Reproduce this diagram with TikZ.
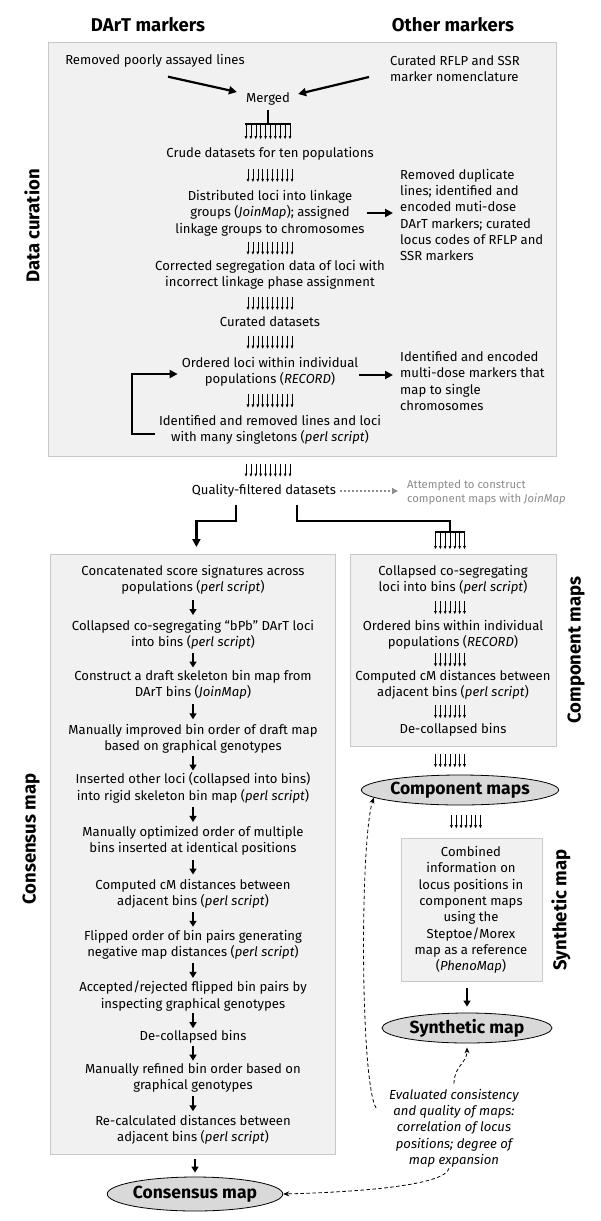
\documentclass[tikz,border=0pt]{standalone}
\usepackage{fontspec}
\setmainfont{Fira Sans}
\usetikzlibrary{arrows.meta,shapes.geometric,calc}
\definecolor{boxfill}{HTML}{F1F1F1}
\definecolor{boxline}{HTML}{C8C8C8}
\definecolor{ellfill}{HTML}{D9D9D9}
\definecolor{graytxt}{HTML}{8C8C8C}
\newcommand\stepdown[2]{\draw[sarrow] ($(#1.south)!0.5!(#2.north)+(0,-7.5)$) -- ++(0,15);}
\tikzset{
  tenarrows/.pic={\foreach \i in {0,...,9} \draw[tinyarrow] ({-22+\i*4.89},-6.5) -- ({-22+\i*4.89},6.5);},
  sevenarrows/.pic={\foreach \i in {0,...,6} \draw[tinyarrow] ({-14.5+\i*4.83},-6.5) -- ({-14.5+\i*4.83},6.5);},
  tenfork/.pic={\draw[line width=1.8pt] (-22.8,0) -- (22.8,0);
    \foreach \i in {0,...,9} \draw[tinyarrow] ({-22+\i*4.89},0) -- ({-22+\i*4.89},15);},
  sevenfork/.pic={\draw[line width=1.8pt] (-15.2,0) -- (15.2,0);
    \foreach \i in {0,...,6} \draw[tinyarrow] ({-14.5+\i*4.83},0) -- ({-14.5+\i*4.83},17);}
}
\begin{document}
\begin{tikzpicture}[x=1pt,y=-1pt,
  txt/.style={align=center, font=\fontsize{13.1}{16.3}\selectfont, inner sep=1pt},
  ltxt/.style={align=left, font=\fontsize{13.1}{16.1}\selectfont, inner sep=1pt},
  gtxt/.style={align=left, font=\fontsize{11.3}{14}\selectfont, text=graytxt, inner sep=1pt},
  hdr/.style={font=\fontsize{18.5}{20}\selectfont\bfseries, inner sep=0pt},
  sidelbl/.style={hdr, rotate=90},
  panel/.style={draw=boxline, fill=boxfill, line width=0.8pt, anchor=north west, inner sep=0pt},
  mapell/.style={ellipse, draw=black, fill=ellfill, line width=0.8pt, font=\fontsize{17.5}{20}\selectfont\bfseries, inner sep=0pt},
  bigarrow/.style={line width=2.2pt, -{Triangle[length=8pt,width=8pt]}},
  bigline/.style={line width=2.2pt},
  sarrow/.style={line width=2pt, -{Triangle[length=6pt,width=7pt]}},
  tinyarrow/.style={line width=0.5pt, -{Triangle[length=3pt,width=2.6pt]}},
  dasharrow/.style={dash pattern=on 3.5pt off 2.5pt, line width=0.8pt, -{Stealth[length=6pt,width=5pt]}},
  dotarrow/.style={draw=graytxt, line width=1.6pt, dash pattern=on 1.6pt off 2.4pt, -{Triangle[length=6pt,width=6pt,fill=graytxt]}}
]
\useasboundingbox (0,0) rectangle (600,1221);
% headers
\node[hdr] (hdA) at (148,25) {DArT markers};
\node[hdr] (hdB) at (453,25) {Other markers};
% panels
\node[panel, minimum width=508pt, minimum height=414pt] (box1) at (48,42) {};
\node[panel, minimum width=285pt, minimum height=600pt] (box2) at (50,554) {};
\node[panel, minimum width=206pt, minimum height=192pt] (box3) at (350,554) {};
\node[panel, minimum width=141pt, minimum height=143pt] (box4) at (401,838) {};
% side labels
\node[sidelbl] (lblDC) at (32,226) {Data curation};
\node[sidelbl] (lblCons) at (31,839) {Consensus map};
\node[sidelbl] (lblComp) at (576,650) {Component maps};
\node[sidelbl] (lblSyn) at (561,910) {Synthetic map};
% data curation
\node[txt] (t1) at (155,61) {Removed poorly assayed lines};
\node[ltxt, anchor=west] (t2) at (389,69) {Curated RFLP and SSR\\marker nomenclature};
\node[txt] (merged) at (268,99) {Merged};
\node[txt] (crude) at (270,154) {Crude datasets for ten populations};
\node[txt] (dist) at (270,213) {Distributed loci into linkage\\groups (\textit{JoinMap}); assigned\\linkage groups to chromosomes};
\node[ltxt, anchor=west] (side1) at (399,215) {Removed duplicate\\lines; identified and\\encoded muti-dose\\DArT markers; curated\\locus codes of RFLP and\\SSR markers};
\node[txt] (corr) at (270,275) {Corrected segregation data of loci with\\incorrect linkage phase assignment};
\node[txt] (curds) at (270,322) {Curated datasets};
\node[txt] (ordered) at (270,372) {Ordered loci within individual\\populations (\textit{RECORD})};
\node[ltxt, anchor=west] (side2) at (399,381) {Identified and encoded\\multi-dose markers that\\map to single\\chromosomes};
\node[txt] (ident) at (270,430) {Identified and removed lines and loci\\with many singletons (\textit{perl script})};
\node[txt] (quality) at (264,491) {Quality-filtered datasets};
\node[gtxt, anchor=west] (attempt) at (406,492) {Attempted to construct\\component maps with \textit{JoinMap}};
% consensus
\node[txt] (c1) at (193,580) {Concatenated score signatures across\\populations (\textit{perl script})};
\node[txt] (c2) at (193,635) {Collapsed co-segregating “bPb” DArT loci\\into bins (\textit{perl script})};
\node[txt] (c3) at (193,685) {Construct a draft skeleton bin map from\\DArT bins (\textit{JoinMap})};
\node[txt] (c4) at (193,738.5) {Manually improved bin order of draft map\\based on graphical genotypes};
\node[txt] (c5) at (193,788) {Inserted other loci (collapsed into bins)\\into rigid skeleton bin map (\textit{perl script})};
\node[txt] (c6) at (193,840.5) {Manually optimized order of multiple\\bins inserted at identical positions};
\node[txt] (c7) at (193,893.5) {Computed cM distances between\\adjacent bins (\textit{perl script})};
\node[txt] (c8) at (193,945) {Flipped order of bin pairs generating\\negative map distances (\textit{perl script})};
\node[txt] (c9) at (193,996) {Accepted/rejected flipped bin pairs by\\inspecting graphical genotypes};
\node[txt] (c10) at (193,1037) {De-collapsed bins};
\node[txt] (c11) at (193,1077.5) {Manually refined bin order based on\\graphical genotypes};
\node[txt] (c12) at (193,1130) {Re-calculated distances between\\adjacent bins (\textit{perl script})};
% component
\node[txt] (k1) at (453,580) {Collapsed co-segregating\\loci into bins (\textit{perl script})};
\node[txt] (k2) at (453,635) {Ordered bins within individual\\populations (\textit{RECORD})};
\node[txt] (k3) at (453,685) {Computed cM distances between\\adjacent bins (\textit{perl script})};
\node[txt] (k4) at (453,730) {De-collapsed bins};
% synthetic
\node[txt] (syntxt) at (471,910) {Combined\\information on\\locus positions in\\component maps\\using the\\Steptoe/Morex\\map as a reference\\(\textit{PhenoMap})};
% maps
\node[mapell, minimum width=172pt, minimum height=34pt] (consell) at (195,1194) {Consensus map};
\node[mapell, minimum width=168pt, minimum height=30pt] (compell) at (460,790) {Component maps};
\node[mapell, minimum width=170pt, minimum height=30pt] (synell) at (467,1028) {Synthetic map};
\node[txt, font=\fontsize{13.1}{16.3}\selectfont\itshape] (eval) at (454,1128) {Evaluated consistency\\and quality of maps:\\correlation of locus\\positions; degree of\\map expansion};
% ---- connectors: data curation
\draw[bigarrow] ($(t1.south)+(13,8)$) -- ($(merged.west)+(-8,-7)$);
\draw[bigarrow] ($(t2.west)+(-20,8)$) -- ($(merged.east)+(7,-5)$);
\coordinate (fk1) at (268,124);
\draw[bigline] ([yshift=-3pt]merged.south) -- (fk1);
\pic at (fk1) {tenfork};
\pic at ($(crude.south)!0.5!(dist.north)$) {tenarrows};
\pic at ($(dist.south)!0.5!(corr.north)$) {tenarrows};
\pic at ($(corr.south)!0.5!(curds.north)$) {tenarrows};
\pic at ($(curds.south)!0.5!(ordered.north)$) {tenarrows};
\pic at ($(ordered.south)!0.5!(ident.north)$) {tenarrows};
\coordinate (mq) at ($(box1.south)!0.5!(quality.north)$);
\pic at (mq -| fk1) {tenarrows};
\draw[bigarrow, shorten <=1pt, shorten >=6pt] (dist.east) -- (dist.east -| side1.west);
\draw[bigarrow, shorten >=6pt] ([yshift=-3pt]ordered.east) -- ([yshift=-3pt]ordered.east -| side2.west);
\draw[bigarrow] ([yshift=-4pt,xshift=-3pt]ident.west) -- ++(-23,0) |- ([yshift=-2pt,xshift=-3pt]ordered.west);
\draw[dotarrow, shorten <=3pt, shorten >=8pt] (quality.east) -- (quality.east -| attempt.west);
% split
\coordinate (fk2) at (450,532);
\draw[bigarrow] ([xshift=-28pt,yshift=-6pt]quality.south) -- ++(0,16) -| ([xshift=3.5pt,yshift=7pt]box2.north);
\draw[bigline] ([xshift=33pt,yshift=-6pt]quality.south) -- ++(0,16) -| (fk2);
\pic at (fk2) {sevenfork};
% consensus steps
\stepdown{c1}{c2}
\stepdown{c2}{c3}
\stepdown{c3}{c4}
\stepdown{c4}{c5}
\stepdown{c5}{c6}
\stepdown{c6}{c7}
\stepdown{c7}{c8}
\stepdown{c8}{c9}
\stepdown{c9}{c10}
\stepdown{c10}{c11}
\stepdown{c11}{c12}
\draw[sarrow, shorten <=4pt, shorten >=4pt] (box2.south -| consell.north) -- (consell.north);
% component steps
\coordinate (mk1) at ($(k1.south)!0.5!(k2.north)$);
\coordinate (mk2) at ($(k2.south)!0.5!(k3.north)$);
\coordinate (mk3) at ($(k3.south)!0.5!(k4.north)$);
\coordinate (mk4) at ($(box3.south)!0.5!(compell.north)$);
\pic at (mk1 -| fk2) {sevenarrows};
\pic at (mk2 -| fk2) {sevenarrows};
\pic at (mk3 -| fk2) {sevenarrows};
\pic at (mk4 -| fk2) {sevenarrows};
\pic at ($(compell.south)!0.5!(box4.north)$) {sevenarrows};
\draw[sarrow, shorten <=6pt, shorten >=6pt] (box4.south -| synell.north) -- (synell.north);
% evaluation
\draw[dasharrow] ([xshift=-12pt,yshift=20pt]eval.west) .. controls (360,1080) and (360,840) .. (compell.185);
\draw[dasharrow, shorten >=4pt] ([yshift=4pt]eval.north) .. controls +(0,-18) and +(0,20) .. (synell.south);
\draw[dasharrow] ([xshift=-5pt]eval.south) .. controls +(-4,17) and +(77,-2) .. (consell.east);
\end{tikzpicture}
\end{document}
